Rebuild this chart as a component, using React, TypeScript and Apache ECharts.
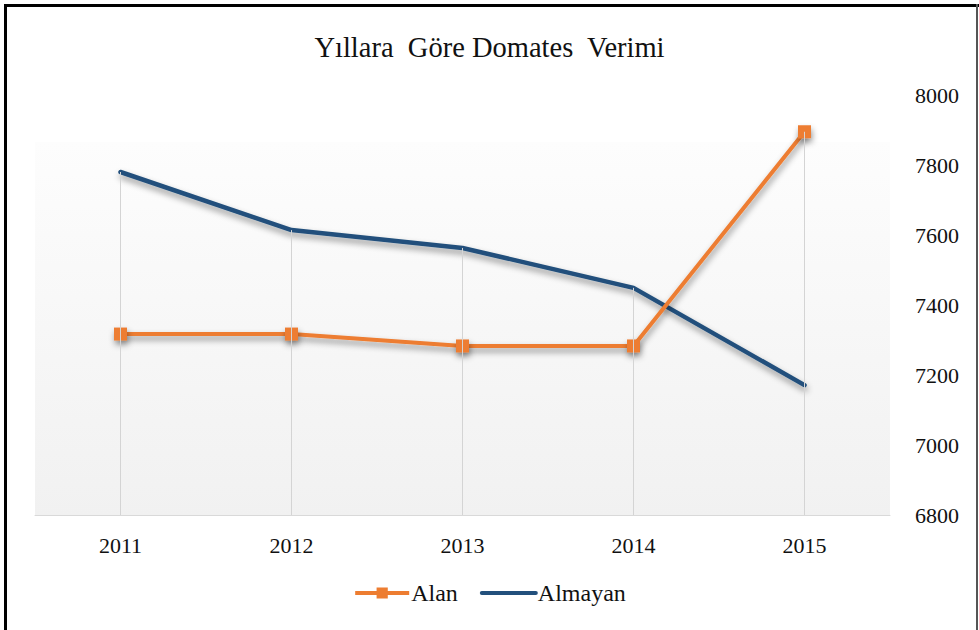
import React, { useEffect, useRef } from "react";
import * as echarts from "echarts";

const titleText = "Yıllara  Göre Domates  Verimi";
const categories = ["2011", "2012", "2013", "2014", "2015"];
const alanValues = [7317, 7317, 7283, 7283, 7895];
const almayanValues = [7780, 7614, 7563, 7449, 7171];
const seriesNames = ["Alan", "Almayan"];
const yMin = 6800;
const yMax = 8000;
const yInterval = 200;

const FONT = "'Liberation Serif', serif";

export default function App() {
  const ref = useRef<HTMLDivElement>(null);

  useEffect(() => {
    if (!ref.current) return;
    const chart = echarts.init(ref.current, undefined, { renderer: "svg" });
    const dropTops = categories.map((_, i) => Math.max(alanValues[i], almayanValues[i]));
    const lineShadow = {
      shadowColor: "rgba(0,0,0,0.42)",
      shadowBlur: 6,
      shadowOffsetX: 1,
      shadowOffsetY: 4,
    };
    const noShadow = { shadowBlur: 0, shadowOffsetX: 0, shadowOffsetY: 0, shadowColor: "transparent" };
    chart.setOption({
      animation: false,
      backgroundColor: "#ffffff",
      textStyle: { fontFamily: FONT },
      title: {
        text: titleText,
        left: "center",
        top: 28,
        textStyle: { fontFamily: FONT, fontSize: 28.5, fontWeight: "normal", color: "#111" },
      },
      legend: {
        data: [
          {
            name: seriesNames[0],
            lineStyle: { width: 4, ...noShadow },
            itemStyle: { ...noShadow },
          },
          {
            name: seriesNames[1],
            lineStyle: { width: 4, ...noShadow },
            itemStyle: { opacity: 0, ...noShadow },
          },
        ],
        left: "center",
        top: 581,
        itemWidth: 54,
        itemHeight: 14,
        itemGap: 22,
        padding: 0,
        textStyle: { fontFamily: FONT, fontSize: 24, color: "#111", padding: [0, 0, 0, -3] },
      },
      grid: { left: 35, right: 89, top: 95, bottom: 115, containLabel: false },
      xAxis: {
        type: "category",
        data: categories,
        boundaryGap: true,
        axisLine: { show: true, lineStyle: { color: "#d9d9d9", width: 1 } },
        axisTick: { show: false },
        splitLine: { show: false },
        axisLabel: { fontFamily: FONT, fontSize: 22, color: "#111", margin: 19 },
      },
      yAxis: {
        type: "value",
        position: "right",
        min: yMin,
        max: yMax,
        interval: yInterval,
        axisLine: { show: false },
        axisTick: { show: false },
        splitLine: { show: false },
        axisLabel: {
          fontFamily: FONT,
          fontSize: 22,
          color: "#111",
          margin: 25,
          formatter: (v: number) => String(v),
        },
      },
      graphic: [
        {
          type: "rect",
          z: -1,
          silent: true,
          shape: { x: 35, y: 142, width: 855, height: 373 },
          style: {
            fill: new echarts.graphic.LinearGradient(0, 0, 0, 1, [
              { offset: 0, color: "#fdfdfd" },
              { offset: 1, color: "#f1f1f1" },
            ]),
          },
        },
        { type: "rect", z: 100, silent: true, shape: { x: 4, y: 4, width: 975, height: 3 }, style: { fill: "#000" } },
        { type: "rect", z: 100, silent: true, shape: { x: 4, y: 4, width: 3, height: 626 }, style: { fill: "#000" } },
        { type: "rect", z: 100, silent: true, shape: { x: 976, y: 4, width: 2, height: 626 }, style: { fill: "#555" } },
      ],
      series: [
        {
          name: "drop",
          type: "line",
          data: dropTops,
          symbol: "none",
          silent: true,
          z: 1,
          lineStyle: { opacity: 0 },
          markLine: {
            silent: true,
            symbol: "none",
            label: { show: false },
            lineStyle: { color: "#d4d4d4", width: 1, type: "solid" },
            data: categories.map((c, i) => [
              { coord: [c, dropTops[i]] },
              { coord: [c, yMin] },
            ]),
          },
        },
        {
          name: seriesNames[0],
          type: "line",
          data: alanValues,
          symbol: "rect",
          symbolSize: 13,
          z: 3,
          lineStyle: { color: "#ED7D31", width: 4, ...lineShadow },
          itemStyle: { color: "#ED7D31", ...lineShadow },
        },
        {
          name: seriesNames[1],
          type: "line",
          data: almayanValues,
          symbol: "none",
          z: 2,
          lineStyle: { color: "#22507c", width: 4.5, cap: "round", join: "round", ...lineShadow },
          itemStyle: { color: "#22507c" },
        },
      ],
    });
    return () => chart.dispose();
  }, []);

  return (
    <div
      ref={ref}
      style={{ position: "fixed", left: 0, top: 0, width: 979, height: 630, background: "#fff" }}
    />
  );
}
